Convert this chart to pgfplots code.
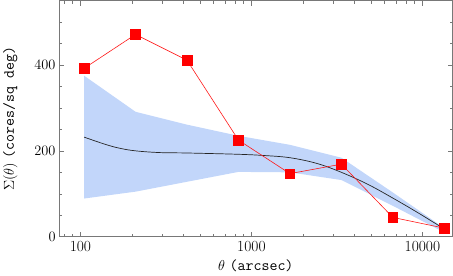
\documentclass[border=0pt]{standalone}
\usepackage{pgfplots}
\pgfplotsset{compat=1.18}
\definecolor{bandblue}{RGB}{194,214,250}
\definecolor{axgray}{RGB}{120,120,120}
\begin{document}
\begin{tikzpicture}
\begin{axis}[
  xmode=log,
  scale only axis,
  width=393bp, height=236bp,
  xmin=75, xmax=15000,
  ymin=0, ymax=550,
  xtick={100,1000,10000},
  xticklabels={100,1000,10000},
  minor xtick={80,90,200,300,400,500,600,700,800,900,2000,3000,4000,5000,6000,7000,8000,9000},
  ytick={0,200,400},
  minor ytick={50,100,150,250,300,350,450,500},
  axis line style={axgray, line width=1.1pt},
  every tick/.style={axgray, line width=0.6pt},
  major tick length=5bp,
  minor tick length=3bp,
  tick align=inside,
  xtick pos=both, ytick pos=both,
  tick label style={font=\fontsize{15.5}{18}\selectfont, text=black},
  label style={font=\fontsize{15.5}{18}\selectfont},
  xlabel={$\theta$ \texttt{(arcsec)}},
  ylabel={$\Sigma(\theta)$ \texttt{(cores/sq deg)}},
  xlabel style={at={(axis description cs:0.5,0)}, anchor=north, yshift=-19bp},
  ylabel style={at={(axis description cs:0,0.5)}, anchor=south, yshift=38bp},
  xticklabel style={yshift=-1bp},
  clip=false,
]
\addplot[fill=bandblue, draw=none] coordinates {
  (105,375) (210,291) (420,261) (840,235) (1680,214) (3360,184) (6720,103) (13440,20)
  (13440,10) (6720,72) (3360,132) (1680,150) (840,151) (420,128) (210,105) (105,89)
};
\addplot[black!85, line width=0.7pt, smooth, tension=0.6] coordinates {
  (105,232) (140,215) (170,206) (210,200) (290,196) (420,195) (840,192) (1200,189)
  (1680,184) (2400,171) (3360,150) (4800,122) (6720,90) (9500,55) (13440,18)
};
\addplot[red!90!white, line width=0.6pt, mark=square*, mark size=4.8bp,
  mark options={fill=red, draw=red}] coordinates {
  (105,392) (210,471) (420,411) (840,225) (1680,147) (3360,169) (6720,45) (13440,20)
};
\end{axis}
\pgfresetboundingbox
\path (current axis.south west)++(-59bp,-39bp) rectangle ([shift={(0.5bp,0.5bp)}]current axis.north east);
\end{tikzpicture}
\end{document}
